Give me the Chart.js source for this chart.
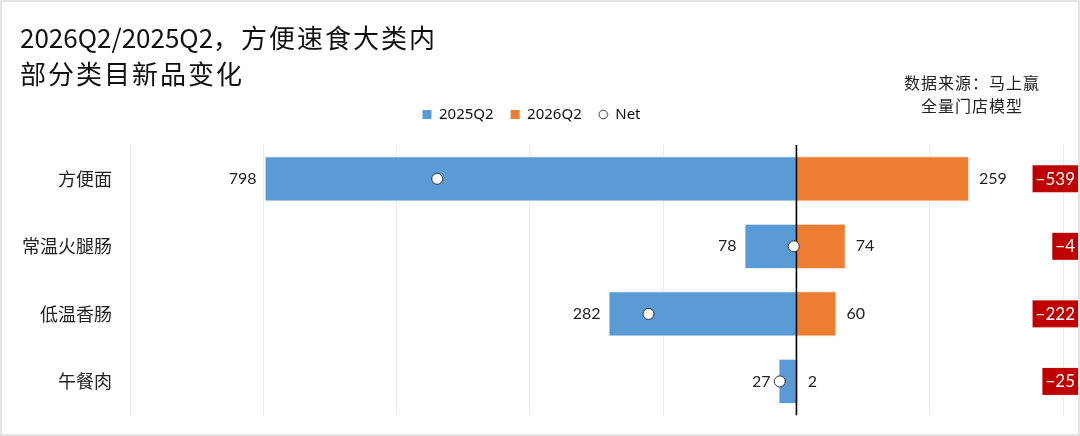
<!DOCTYPE html>
<html>
<head>
<meta charset="utf-8">
<script src="https://cdn.jsdelivr.net/npm/chart.js@4.4.1/dist/chart.umd.min.js"></script>
<style>
  html, body { margin: 0; padding: 0; background: #fff; }
  #wrap { position: relative; width: 1080px; height: 436px; overflow: hidden; background: #fff; }
  #c { position: absolute; left: 0; top: 0; }
  #title { position: absolute; left: 20px; top: 19px; font-family: "Noto Sans CJK SC", sans-serif; font-size: 26px; line-height: 36px; color: #111; white-space: nowrap; }
  #title .cj { letter-spacing: 2px; }
  #source { position: absolute; left: 872px; top: 71px; width: 200px; text-align: center; font-family: "Noto Sans CJK SC", sans-serif; font-size: 16px; line-height: 23px; color: #222; letter-spacing: 1px; }
  #frame { position: absolute; left: 0; top: 0; width: 1080px; height: 436px; box-sizing: border-box; border: 2px solid #e4e4e4; pointer-events: none; }
</style>
</head>
<body>
<div id="wrap">
  <canvas id="c" width="1080" height="436"></canvas>
  <div id="title">2026Q2/2025Q2<span class="cj">，方便速食大类内</span><br><span class="cj">部分类目新品变化</span></div>
  <div id="source">数据来源：马上赢<br>全量门店模型</div>
  <div id="frame"></div>
</div>
<script>
const categories = ['方便面', '常温火腿肠', '低温香肠', '午餐肉'];
const q2025 = [798, 78, 282, 27];
const q2026 = [259, 74, 60, 2];
const netValues = [-539, -4, -222, -25];
const seriesNames = ['2025Q2', '2026Q2', 'Net'];
const xMin = -1000, xMax = 400, xStep = 200;

const BLUE = '#5B9BD5', ORANGE = '#ED7D31', RED = '#C00000';

function fmtMinus(v) { return v < 0 ? '\u2212' + Math.abs(v) : String(v); }

// small circle icon for legend
const circleIcon = document.createElement('canvas');
circleIcon.width = 11; circleIcon.height = 11;
(function () {
  const g = circleIcon.getContext('2d');
  g.beginPath(); g.arc(5.5, 5.5, 4.3, 0, Math.PI * 2);
  g.fillStyle = '#fff'; g.fill();
  g.lineWidth = 1; g.strokeStyle = '#333'; g.stroke();
})();

const overlayPlugin = {
  id: 'overlay',
  afterDatasetDraw(chart, args) {
    if (args.index !== 0) return;
    const x = chart.scales.x.getPixelForValue(0);
    const a = chart.chartArea;
    const ctx = chart.ctx;
    ctx.save();
    ctx.strokeStyle = '#000';
    ctx.lineWidth = 1.6;
    ctx.beginPath(); ctx.moveTo(x, a.top); ctx.lineTo(x, a.bottom); ctx.stroke();
    ctx.restore();
  },
  afterDatasetsDraw(chart) {
    const ctx = chart.ctx;
    ctx.save();
    ctx.font = '16px Lato, "Noto Sans", sans-serif';
    ctx.fillStyle = '#222';
    ctx.textBaseline = 'middle';
    const m0 = chart.getDatasetMeta(0), m1 = chart.getDatasetMeta(1);
    m0.data.forEach((bar, i) => {
      ctx.textAlign = 'right';
      const px = Math.min(bar.x, bar.base);
      ctx.fillText(String(q2025[i]), px - 8, bar.y);
    });
    m1.data.forEach((bar, i) => {
      ctx.textAlign = 'left';
      const px = Math.max(bar.x, bar.base);
      ctx.fillText(String(q2026[i]), px + 10, bar.y);
    });
    // net boxes at right edge
    ctx.font = '17px Lato, "Noto Sans", sans-serif';
    const right = 1078;
    m0.data.forEach((bar, i) => {
      const t = fmtMinus(netValues[i]);
      const w = ctx.measureText(t).width + 6;
      const h = 27;
      ctx.fillStyle = RED;
      ctx.fillRect(right - w, bar.y - h / 2, w, h);
      ctx.fillStyle = '#fff';
      ctx.textAlign = 'right';
      ctx.fillText(t, right - 3, bar.y + 0.5);
    });
    ctx.restore();
  }
};

new Chart(document.getElementById('c'), {
  type: 'bar',
  data: {
    labels: categories,
    datasets: [
      {
        label: seriesNames[0], data: q2025.map(v => -v), backgroundColor: BLUE,
        borderColor: '#e9f1f9', borderWidth: 1, grouped: false, order: 1,
        barPercentage: 0.67, categoryPercentage: 1
      },
      {
        label: seriesNames[1], data: q2026, backgroundColor: ORANGE,
        borderColor: '#fbe3d3', borderWidth: 1, grouped: false, order: 1,
        barPercentage: 0.67, categoryPercentage: 1
      },
      {
        type: 'line', label: seriesNames[2], data: netValues, indexAxis: 'y',
        showLine: false, pointRadius: 5.5, pointHoverRadius: 5.5,
        pointBackgroundColor: '#fff', pointBorderColor: '#333', pointBorderWidth: 1, order: 0
      }
    ]
  },
  options: {
    indexAxis: 'y',
    responsive: false,
    animation: false,
    events: [],
    layout: { padding: { top: 90, right: 17, bottom: 16, left: 0 } },
    plugins: {
      tooltip: { enabled: false },
      title: { display: false },
      legend: {
        display: true,
        position: 'top',
        labels: {
          usePointStyle: true,
          boxWidth: 9, boxHeight: 9,
          padding: 17,
          color: '#111',
          font: { family: '"Noto Sans", "DejaVu Sans", sans-serif', size: 15 },
          generateLabels() {
            return [
              { text: seriesNames[0], fillStyle: BLUE, strokeStyle: BLUE, lineWidth: 0, pointStyle: 'rect', datasetIndex: 0, fontColor: '#111' },
              { text: seriesNames[1], fillStyle: ORANGE, strokeStyle: ORANGE, lineWidth: 0, pointStyle: 'rect', datasetIndex: 1, fontColor: '#111' },
              { text: seriesNames[2], fillStyle: '#fff', strokeStyle: '#333', lineWidth: 1, pointStyle: circleIcon, datasetIndex: 2, fontColor: '#111' }
            ];
          }
        }
      }
    },
    scales: {
      x: {
        type: 'linear', position: 'top',
        min: xMin, max: xMax,
        ticks: { stepSize: xStep, display: false },
        grid: { color: '#ebebeb', lineWidth: 1, drawTicks: false },
        border: { display: false },
        afterFit(s) { s.height = 13; }
      },
      y: {
        grid: { display: false },
        border: { display: false },
        ticks: { color: '#222', padding: 10, font: { family: '"Noto Sans CJK SC", sans-serif', size: 18 } },
        afterFit(s) { s.width = 130; }
      }
    }
  },
  plugins: [overlayPlugin]
});
</script>
</body>
</html>
